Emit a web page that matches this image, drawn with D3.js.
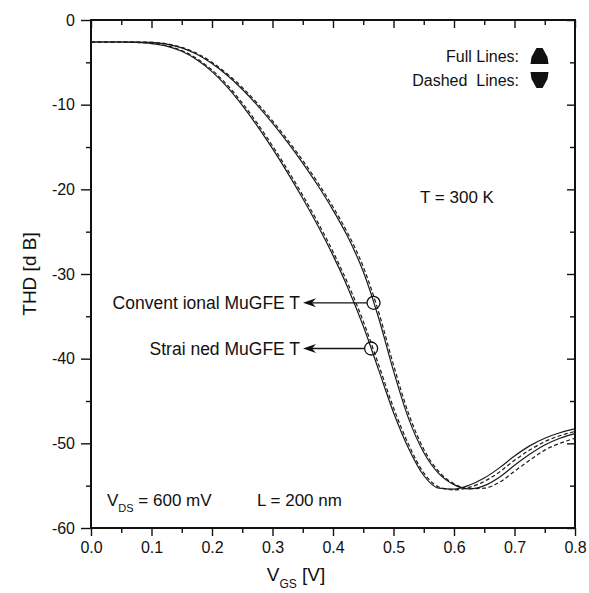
<!DOCTYPE html>
<html>
<head>
<meta charset="utf-8">
<script src="https://cdn.jsdelivr.net/npm/d3@7"></script>
<style>
  body { margin: 0; background: #fff; }
  svg { display: block; }
  text { font-family: "Liberation Sans", Arial, sans-serif; fill: #111; }
</style>
</head>
<body>
<svg id="chart" width="589" height="593"></svg>
<script>
// Gate voltage samples (V)
const vgs = [0, 0.025, 0.05, 0.075, 0.1, 0.125, 0.15, 0.175, 0.2, 0.225, 0.25, 0.275,
             0.3, 0.325, 0.35, 0.375, 0.4, 0.425, 0.45, 0.475, 0.5, 0.525, 0.55, 0.575,
             0.6, 0.625, 0.65, 0.675, 0.7, 0.725, 0.75, 0.775, 0.8];

// THD (dB) of the strained MuGFET, full and dashed lines
const thdStrainedFull = [-2.6, -2.6, -2.6, -2.65, -2.78, -3.08, -3.7, -4.7, -6.1, -7.9, -10.08, -12.53,
                         -15.2, -18.05, -21.08, -24.3, -27.8, -31.7, -36.15, -41.23, -46.35, -50.6, -53.8, -55.3,
                         -55.4, -54.95, -54.1, -52.9, -51.5, -50.3, -49.4, -48.75, -48.3];
const thdStrainedDashed = [-2.6, -2.6, -2.6, -2.65, -2.76, -3.03, -3.6, -4.56, -5.91, -7.66, -9.8, -12.22,
                           -14.87, -17.7, -20.71, -23.9, -27.36, -31.2, -35.58, -40.62, -45.79, -50.15, -53.5, -55.15,
                           -55.5, -55.2, -54.5, -53.4, -52.0, -50.8, -49.8, -49.1, -48.6];

// THD (dB) of the conventional MuGFET, full and dashed lines
const thdConvFull = [-2.6, -2.6, -2.6, -2.6, -2.65, -2.85, -3.3, -4.05, -5.15, -6.53, -8.18, -10.08,
                     -12.18, -14.45, -16.9, -19.55, -22.45, -25.7, -29.7, -35.08, -41.45, -47.08, -51.08, -53.58,
                     -54.88, -55.38, -55.0, -54.0, -52.6, -51.3, -50.2, -49.4, -48.85];
const thdConvDashed = [-2.6, -2.6, -2.6, -2.6, -2.64, -2.81, -3.23, -3.94, -5.0, -6.35, -7.97, -9.84,
                       -11.92, -14.17, -16.59, -19.22, -22.08, -25.27, -29.14, -34.38, -40.73, -46.5, -50.69, -53.35,
                       -54.78, -55.35, -55.3, -54.6, -53.3, -52.0, -50.8, -50.0, -49.4];

// Axis ticks
const xMajorTicks = [0, 0.1, 0.2, 0.3, 0.4, 0.5, 0.6, 0.7, 0.8];
const xMinorTicks = [0.05, 0.15, 0.25, 0.35, 0.45, 0.55, 0.65, 0.75];
const yMajorTicks = [0, -10, -20, -30, -40, -50, -60];
const yMinorTicks = [-5, -15, -25, -35, -45, -55];

// Marked points with their callout labels
const markerNames = ["Convent ional MuGFE T", "Strai ned MuGFE T"];
const markerVgs = [0.467, 0.463];
const markerThd = [-33.4, -38.8];

const svg = d3.select("#chart");
const plotLeft = 91, plotRight = 575, plotTop = 20, plotBottom = 528;

const x = d3.scaleLinear().domain([0, 0.8]).range([plotLeft, plotRight]);
const y = d3.scaleLinear().domain([-60, 0]).range([plotBottom, plotTop]);

const ink = "#111";

// ---- axes ----
function styleAxis(g) {
  g.select(".domain").remove();
  g.selectAll(".tick line").attr("stroke", ink).attr("stroke-width", 1.4);
  g.selectAll(".tick text").attr("fill", ink).style("font-size", "16px")
    .style("font-family", '"Liberation Sans", Arial, sans-serif');
}

// bottom (outward ticks, labelled)
svg.append("g").attr("transform", `translate(0,${plotBottom})`)
  .call(d3.axisBottom(x).tickValues(xMajorTicks).tickSize(8).tickPadding(6)
        .tickFormat(d3.format(".1f")))
  .call(styleAxis);
svg.append("g").attr("transform", `translate(0,${plotBottom})`)
  .call(d3.axisBottom(x).tickValues(xMinorTicks).tickSize(5).tickFormat(""))
  .call(styleAxis);

// top (inward ticks)
svg.append("g").attr("transform", `translate(0,${plotTop})`)
  .call(d3.axisBottom(x).tickValues(xMajorTicks).tickSize(8).tickFormat(""))
  .call(styleAxis);
svg.append("g").attr("transform", `translate(0,${plotTop})`)
  .call(d3.axisBottom(x).tickValues(xMinorTicks).tickSize(5).tickFormat(""))
  .call(styleAxis);

// left (outward ticks, labelled)
svg.append("g").attr("transform", `translate(${plotLeft},0)`)
  .call(d3.axisLeft(y).tickValues(yMajorTicks).tickSize(10).tickPadding(6)
        .tickFormat(d => String(d)))
  .call(styleAxis);
svg.append("g").attr("transform", `translate(${plotLeft},0)`)
  .call(d3.axisLeft(y).tickValues(yMinorTicks).tickSize(5).tickFormat(""))
  .call(styleAxis);

// right (inward ticks)
svg.append("g").attr("transform", `translate(${plotRight},0)`)
  .call(d3.axisLeft(y).tickValues(yMajorTicks).tickSize(8).tickFormat(""))
  .call(styleAxis);
svg.append("g").attr("transform", `translate(${plotRight},0)`)
  .call(d3.axisLeft(y).tickValues(yMinorTicks).tickSize(5).tickFormat(""))
  .call(styleAxis);

// plot frame
svg.append("rect")
  .attr("x", plotLeft).attr("y", plotTop)
  .attr("width", plotRight - plotLeft).attr("height", plotBottom - plotTop)
  .attr("fill", "none").attr("stroke", ink).attr("stroke-width", 2);

// ---- curves ----
const line = d3.line()
  .x((d, i) => x(vgs[i]))
  .y(d => y(d))
  .curve(d3.curveMonotoneX);

const series = [
  { values: thdStrainedFull, dash: null },
  { values: thdConvFull, dash: null },
  { values: thdStrainedDashed, dash: "4,2.5" },
  { values: thdConvDashed, dash: "4,2.5" }
];

svg.append("g").selectAll("path").data(series).join("path")
  .attr("d", d => line(d.values))
  .attr("fill", "none")
  .attr("stroke", "#1a1a1a")
  .attr("stroke-width", 1.2)
  .attr("stroke-dasharray", d => d.dash);

// ---- callouts ----
const callouts = svg.append("g");
markerNames.forEach((name, i) => {
  const cx = x(markerVgs[i]), cy = y(markerThd[i]);
  const r = 6.5;
  callouts.append("circle")
    .attr("cx", cx).attr("cy", cy).attr("r", r)
    .attr("fill", "none").attr("stroke", ink).attr("stroke-width", 1.3);
  const tipX = 303;
  callouts.append("line")
    .attr("x1", cx - r).attr("y1", cy).attr("x2", tipX + 6).attr("y2", cy)
    .attr("stroke", ink).attr("stroke-width", 1.3);
  callouts.append("path")
    .attr("d", `M${tipX},${cy} L${tipX + 13},${cy - 4.5} L${tipX + 9},${cy} L${tipX + 13},${cy + 4.5} Z`)
    .attr("fill", ink);
  callouts.append("text")
    .attr("x", tipX - 3).attr("y", cy)
    .attr("text-anchor", "end").attr("dominant-baseline", "central")
    .style("font-size", "17.5px")
    .text(name);
});

// ---- line-style legend ----
const legend = svg.append("g");
const legendRows = [
  { label: "Full Lines:", cy: 56, up: true },
  { label: "Dashed  Lines:", cy: 80, up: false }
];
legendRows.forEach(r => {
  legend.append("text")
    .attr("x", 519).attr("y", r.cy)
    .attr("text-anchor", "end").attr("dominant-baseline", "central")
    .style("font-size", "16px").style("white-space", "pre")
    .text(r.label);
  const s = r.up ? 1 : -1;
  const cx = 539.5, cy = r.cy;
  const pts = [[-3, -8], [3, -8], [8, 1], [9, 8], [-9, 8], [-8, 1]]
    .map(([px, py]) => [cx + px, cy + s * py]);
  legend.append("path")
    .attr("d", "M" + pts.map(p => p.join(",")).join("L") + "Z")
    .attr("fill", ink);
});

// temperature note
svg.append("text")
  .attr("x", 457).attr("y", 197)
  .attr("text-anchor", "middle").attr("dominant-baseline", "central")
  .style("font-size", "17px")
  .text("T = 300 K");

// bias / geometry note
const note = svg.append("text")
  .attr("x", 107).attr("y", 506)
  .style("font-size", "17px");
note.append("tspan").text("V");
note.append("tspan").attr("dy", 6).style("font-size", "11px").text("DS");
note.append("tspan").attr("dy", -6).text(" = 600 mV");
svg.append("text")
  .attr("x", 257).attr("y", 506)
  .style("font-size", "17px")
  .text("L = 200 nm");

// ---- axis titles ----
const xTitle = svg.append("text")
  .attr("x", 296).attr("y", 581)
  .attr("text-anchor", "middle")
  .style("font-size", "19px");
xTitle.append("tspan").text("V");
xTitle.append("tspan").attr("dy", 7).style("font-size", "12px").text("GS");
xTitle.append("tspan").attr("dy", -7).text(" [V]");

svg.append("text")
  .attr("transform", "translate(29,274) rotate(-90)")
  .attr("text-anchor", "middle").attr("dominant-baseline", "central")
  .style("font-size", "19px")
  .text("THD [d B]");
</script>
</body>
</html>
